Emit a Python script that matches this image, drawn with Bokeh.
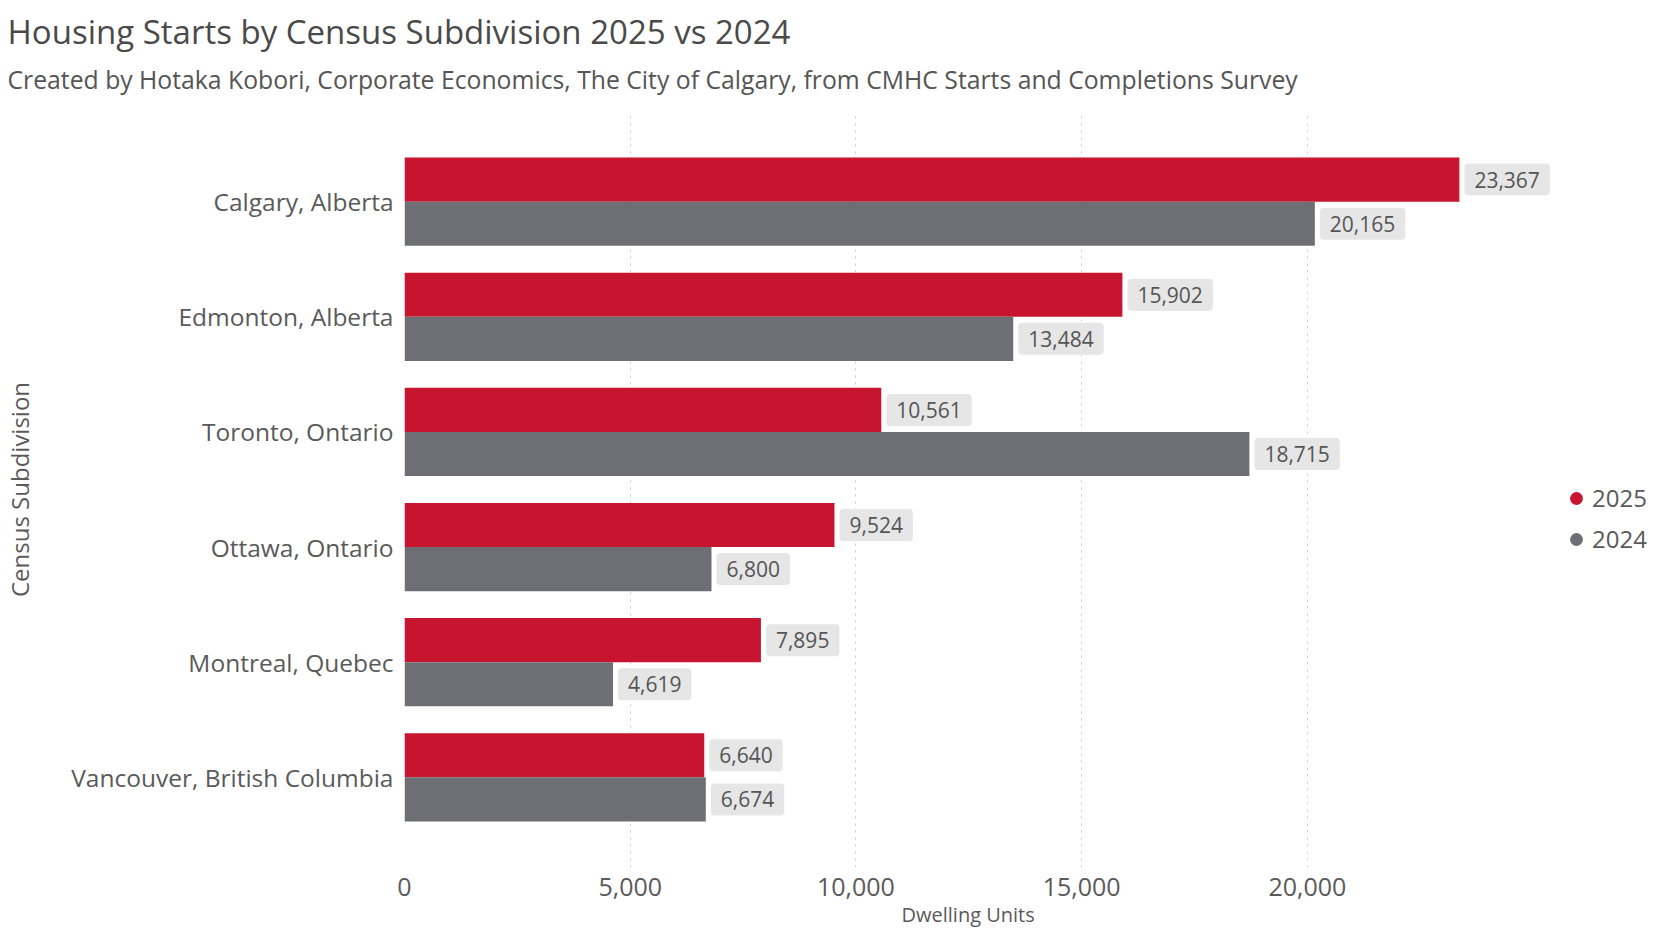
from bokeh.plotting import figure
from bokeh.models import (FactorRange, Range1d, FixedTicker, NumeralTickFormatter,
                          ColumnDataSource, Legend, LegendItem, Title)
from bokeh.transform import dodge
from bokeh.core.properties import value
from bokeh.embed import file_html
from bokeh.resources import INLINE

cities = ["Calgary, Alberta", "Edmonton, Alberta", "Toronto, Ontario",
          "Ottawa, Ontario", "Montreal, Quebec", "Vancouver, British Columbia"]
starts_2025 = [23367, 15902, 10561, 9524, 7895, 6640]
starts_2024 = [20165, 13484, 18715, 6800, 4619, 6674]
x_ticks = [0, 5000, 10000, 15000, 20000]
series_names = ["2025", "2024"]

RED = "#C8152F"
GRAY = "#6D6F74"
TXT = "#5a5a5a"
FONT = "Open Sans"

src = ColumnDataSource(dict(
    city=cities,
    s2025=starts_2025,
    s2024=starts_2024,
    l2025=[f"{v:,}" for v in starts_2025],
    l2024=[f"{v:,}" for v in starts_2024],
))

p = figure(width=1652, height=927, output_backend="svg", toolbar_location=None,
           y_range=FactorRange(factors=cities[::-1], range_padding=0.283,
                               range_padding_units="absolute"),
           x_range=Range1d(0, 27600),
           min_border_left=396, min_border_right=2, min_border_bottom=0,
           min_border_top=0, outline_line_color=None)

# blank spacer between subtitle and plot area
p.add_layout(Title(text=" ", text_font_size="2px", standoff=12), "above")

p.add_layout(Title(text="Created by Hotaka Kobori, Corporate Economics, The City of Calgary, from CMHC Starts and Completions Survey",
                   text_font=FONT, text_font_size="24.75px", text_font_style="normal",
                   text_color="#555555", align="left", offset=-397, standoff=0), "above")
p.add_layout(Title(text="Housing Starts by Census Subdivision 2025 vs 2024",
                   text_font=FONT, text_font_size="33px", text_font_style="normal",
                   text_color="#4a4a4a", align="left", offset=-397, standoff=13), "above")

bar_h = 0.383
off = bar_h / 2
r25 = p.hbar(y=dodge("city", off, range=p.y_range), left=0, right="s2025",
             height=bar_h, source=src, fill_color=RED, line_color=None)
r24 = p.hbar(y=dodge("city", -off, range=p.y_range), left=0, right="s2024",
             height=bar_h, source=src, fill_color=GRAY, line_color=None)

for col, lab, o in (("s2025", "l2025", off), ("s2024", "l2024", -off)):
    p.text(x=col, y=dodge("city", o, range=p.y_range), text=lab, source=src,
           x_offset=5, text_align="left", text_baseline="middle",
           text_font=value(FONT), text_font_size="21px", text_color="#555555",
           background_fill_color="#E6E6E6", padding=[10, 8], border_radius=4)

# legend: round markers (zero-size in the plot, drawn only in the legend)
d25 = p.scatter(x="s2025", y=dodge("city", off, range=p.y_range), source=src,
                marker="circle", size=0, fill_color=RED, line_color=None)
d24 = p.scatter(x="s2024", y=dodge("city", -off, range=p.y_range), source=src,
                marker="circle", size=0, fill_color=GRAY, line_color=None)
legend = Legend(items=[LegendItem(label=series_names[0], renderers=[d25], index=0),
                       LegendItem(label=series_names[1], renderers=[d24], index=0)],
                location=(1156, 312), orientation="vertical",
                glyph_width=32, glyph_height=32, label_standoff=0, spacing=8,
                padding=0, margin=0, border_line_color=None, background_fill_alpha=0,
                label_text_font=FONT, label_text_font_size="24px", label_text_color=TXT,
                label_height=32)
p.add_layout(legend, "center")

# x axis
xa = p.below[0]
xa.ticker = FixedTicker(ticks=x_ticks)
xa.formatter = NumeralTickFormatter(format="0,0")
xa.axis_line_color = None
xa.major_tick_line_color = None
xa.minor_tick_line_color = None
xa.major_tick_out = 0
xa.major_tick_in = 0
xa.major_label_text_font = FONT
xa.major_label_text_font_size = "25px"
xa.major_label_text_color = TXT
xa.major_label_standoff = 10

p.add_layout(Title(text="Dwelling Units", text_font=FONT, text_font_size="20px",
                   text_font_style="normal", text_color=TXT, align="left",
                   offset=497, standoff=0), "below")

# y axis
ya = p.left[0]
ya.axis_line_color = None
ya.major_tick_line_color = None
ya.minor_tick_line_color = None
ya.major_tick_out = 0
ya.major_tick_in = 0
ya.major_label_text_font = FONT
ya.major_label_text_font_size = "24.5px"
ya.major_label_text_color = TXT
ya.major_label_standoff = 11
ya.axis_label = "Census Subdivision"
ya.axis_label_text_font = FONT
ya.axis_label_text_font_size = "24px"
ya.axis_label_text_font_style = "normal"
ya.axis_label_text_color = TXT
ya.axis_label_standoff = 32

p.xgrid.ticker = FixedTicker(ticks=x_ticks)
p.xgrid.grid_line_color = "#C8C8C8"
p.xgrid.grid_line_dash = "2 5"
p.ygrid.grid_line_color = None

open("out.html", "w").write(file_html(p, INLINE))
